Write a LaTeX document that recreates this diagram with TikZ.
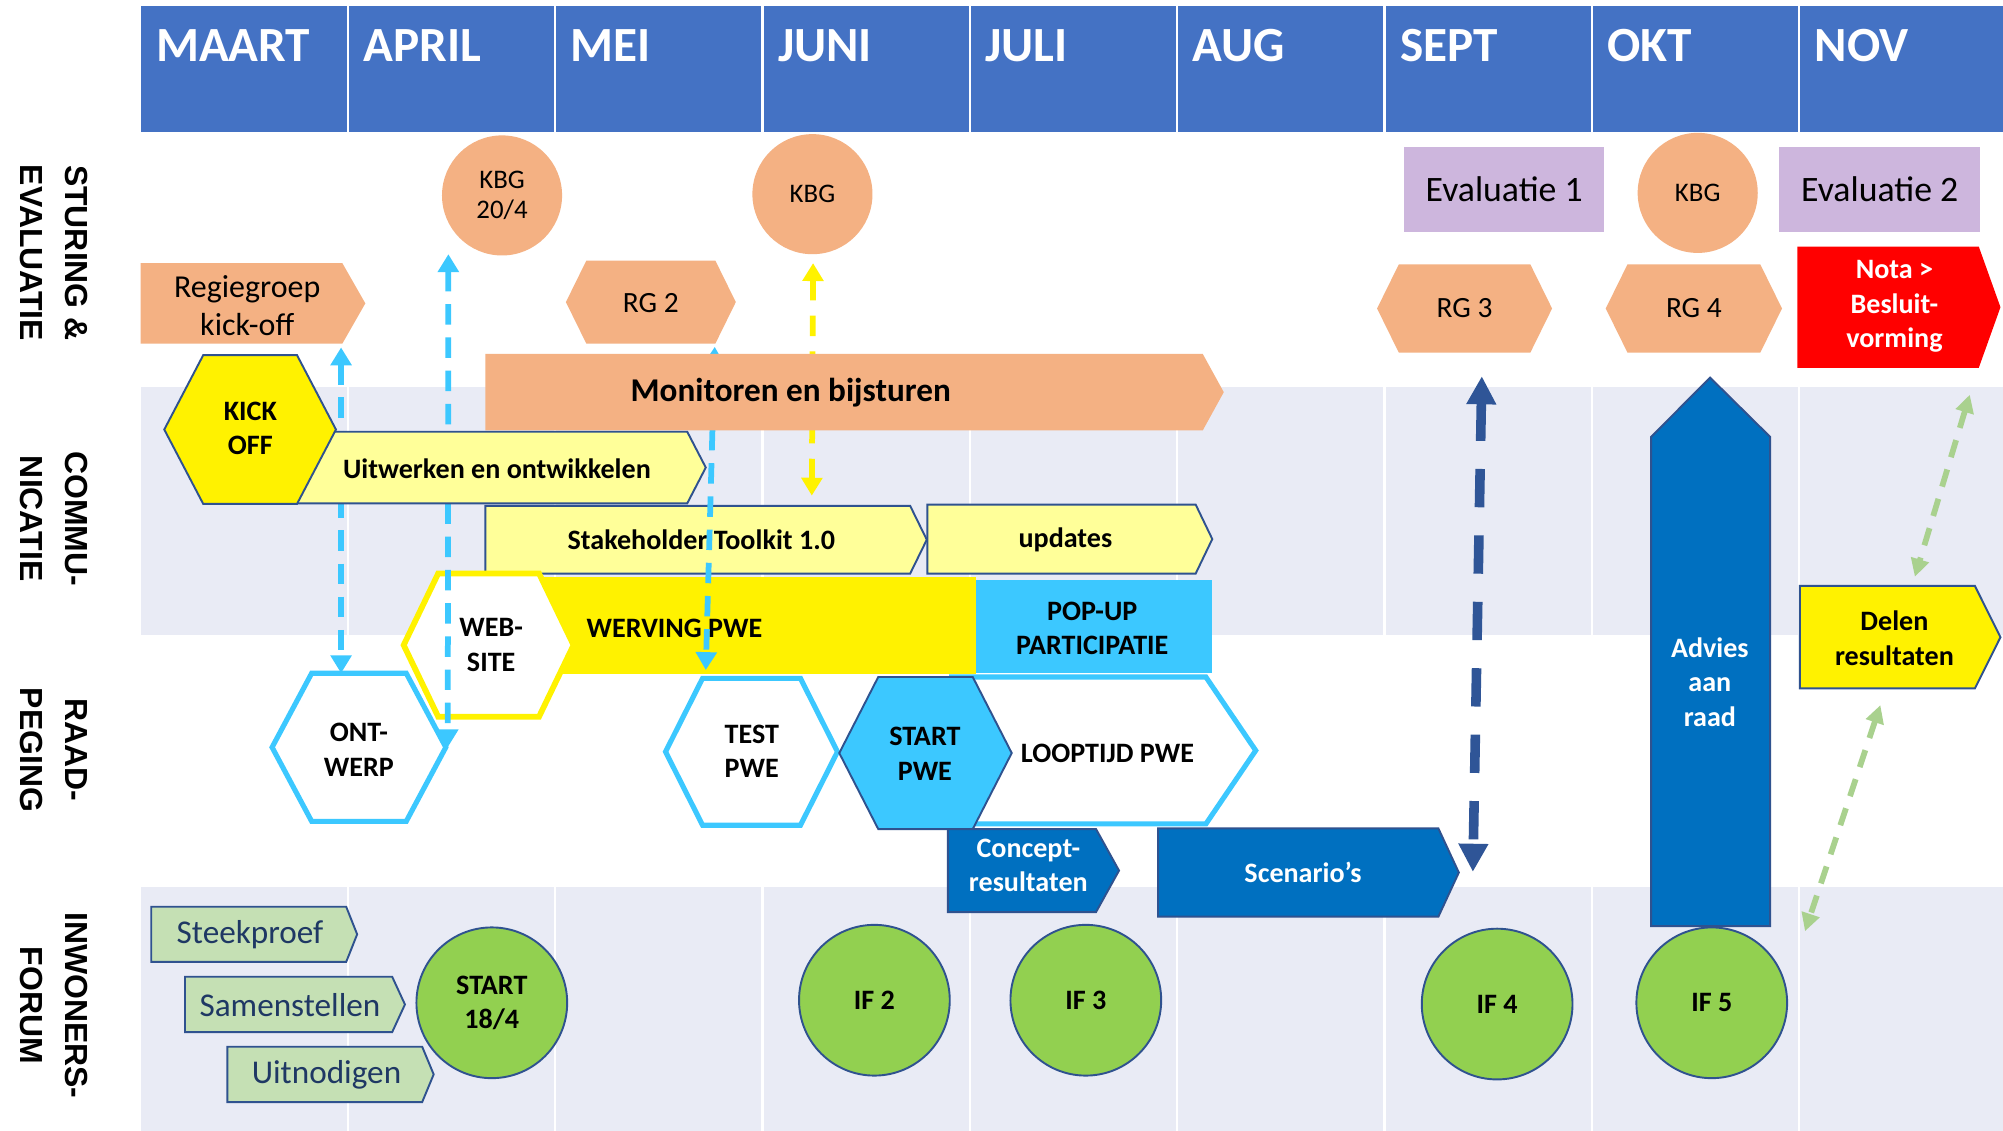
\documentclass[tikz,border=0pt]{standalone}
\usepackage{fontspec}
\setmainfont{Carlito}
\newfontfamily\lanefont{Liberation Sans}
\usetikzlibrary{arrows.meta}
\definecolor{hdr}{HTML}{4472C4}
\definecolor{salmon}{HTML}{F4B183}
\definecolor{lav}{HTML}{CDB6DD}
\definecolor{band}{HTML}{E9EBF5}
\definecolor{lyel}{HTML}{FFFF99}
\definecolor{cyanb}{HTML}{3CC8FF}
\definecolor{blueb}{HTML}{0070C0}
\definecolor{outl}{HTML}{2F528F}
\definecolor{grn}{HTML}{92D050}
\definecolor{lgrn}{HTML}{C5E0B4}
\definecolor{navy}{HTML}{1F3864}
\definecolor{darr}{HTML}{2F5597}
\definecolor{garr}{HTML}{A9D18E}
% #1 style, #2 left, #3 right, #4 top, #5 bottom, #6 inset
\newcommand\HexShape[6]{\path[#1] (#2,{(#4+#5)/2}) -- ({#2+#6},#4) -- ({#3-#6},#4) -- (#3,{(#4+#5)/2}) -- ({#3-#6},#5) -- ({#2+#6},#5) -- cycle;}
% #1 style, #2 left, #3 tip x, #4 top, #5 bottom, #6 tip length
\newcommand\PentShape[6]{\path[#1] (#2,#4) -- ({#3-#6},#4) -- (#3,{(#4+#5)/2}) -- ({#3-#6},#5) -- (#2,#5) -- cycle;}
\begin{document}
\begin{tikzpicture}[x=1pt,y=-1pt,
  lbl/.style={font=\fontsize{22}{27}\selectfont\bfseries, align=center, inner sep=0pt},
  reg/.style={font=\fontsize{25}{30}\selectfont, align=center, inner sep=0pt},
  month/.style={font=\fontsize{38.5}{40}\selectfont\bfseries, text=white, anchor=base west, inner sep=0pt},
  lane/.style={font=\lanefont\bfseries\fontsize{25}{35}\selectfont, align=center, rotate=-90, inner sep=0pt},
  kbg/.style={circle, fill=salmon, minimum size=94pt, inner sep=0pt, font=\fontsize{21}{24}\selectfont, align=center},
  ifc/.style={circle, fill=grn, draw=outl, line width=1.5pt, minimum size=118pt, inner sep=0pt, font=\fontsize{22}{27}\selectfont\bfseries, align=center},
  evalbox/.style={fill=lav, minimum width=157pt, minimum height=67pt, inner sep=0pt, font=\fontsize{28}{30}\selectfont},
  outlined/.style={draw=outl, line width=1.5pt},
  carrow/.style={cyanb, line width=4.5pt, dash pattern=on 16pt off 10pt, {Triangle[length=14pt,width=16pt]}-{Triangle[length=14pt,width=16pt]}},
  yarrow/.style={yellow, line width=4.5pt, dash pattern=on 16pt off 12pt, {Triangle[length=14pt,width=16pt]}-{Triangle[length=14pt,width=16pt]}},
  barrow/.style={darr, line width=7.5pt, dash pattern=on 30pt off 22pt, {Triangle[length=22pt,width=22pt]}-{Triangle[length=22pt,width=22pt]}},
  garrow/.style={garr, line width=4.5pt, dash pattern=on 14pt off 10pt, {Triangle[length=14pt,width=14pt]}-{Triangle[length=14pt,width=14pt]}}
]
\useasboundingbox (0,0) rectangle (1568,885);
\fill[white] (0,0) rectangle (1568,885);
% header and bands
\fill[hdr] (110,5) rectangle (1568,103);
\fill[band] (110,303) rectangle (1568,497);
\fill[band] (110,694) rectangle (1568,885);
\foreach \i in {1,...,8} \draw[white, line width=2pt] ({110+162.3*\i},5) -- ({110+162.3*\i},885);
\foreach \m [count=\i from 0] in {MAART,APRIL,MEI,JUNI,JULI,AUG,SEPT,OKT,NOV}
  \node[month] (m\i) at ({122+162.3*\i},48.3) {\m};
% lane labels
\node[lane] (l1) at (42,198) {STURING \&\\EVALUATIE};
\node[lane] (l2) at (42,406) {COMMU-\\NICATIE};
\node[lane] (l3) at (42,587) {RAAD-\\PEGING};
\node[lane] (l4) at (42,787) {INWONERS-\\FORUM};

% Sturing & evaluatie
\node[kbg] (kbg1) at (393,153) {KBG\\20/4};
\node[kbg] (kbg2) at (636,152) {KBG};
\node[kbg] (kbg3) at (1329,151) {KBG};
\node[evalbox] (ev1) at (1177.5,148.5) {Evaluatie 1};
\node[evalbox] (ev2) at (1471.5,148.5) {Evaluatie 2};
\PentShape{fill=salmon}{110}{286}{206}{269}{18}
\node[reg] (regie) at (193.5,239.5) {Regiegroep\\kick-off};
\HexShape{fill=salmon}{443}{576}{204}{269}{16}
\node[reg, font=\fontsize{23}{27}\selectfont] (rg2) at (509.5,237) {RG 2};
\HexShape{fill=salmon}{1078}{1215}{207}{276}{17}
\node[reg, font=\fontsize{23}{27}\selectfont] (rg3) at (1146.5,241.5) {RG 3};
\HexShape{fill=salmon}{1257}{1395}{207}{276}{17}
\node[reg, font=\fontsize{23}{27}\selectfont] (rg4) at (1326,241.5) {RG 4};
\PentShape{fill=red}{1407}{1566}{193}{288}{17}
\node[lbl, text=white] (nota) at (1483,240) {Nota >\\Besluit-\\vorming};

% Communicatie
\PentShape{fill=lyel, outlined}{380}{725.5}{396}{449}{13}
\node[lbl] (toolkit) at (549,422.7) {Stakeholder Toolkit 1.0};
\PentShape{fill=lyel, outlined}{726}{949}{395}{449}{13}
\node[lbl] (upd) at (834,422.7) {updates};
\fill[yellow] (400,452) rectangle (764,528);
\node[lbl] (werving) at (528,491.6) {WERVING PWE};
\fill[cyanb] (764,454) rectangle (948.5,527);
\node[lbl] (popup) at (855,492) {POP-UP\\PARTICIPATIE};

% Raadpleging
\HexShape{fill=white, draw=cyanb, line width=4pt}{213}{349}{527}{643}{31}
\node[lbl] (ontwerp) at (281,587) {ONT-\\WERP};
\HexShape{fill=white, draw=yellow, line width=4.5pt}{316}{449}{449}{561}{27}
\node[lbl] (web) at (384.5,505) {WEB-\\SITE};
\PentShape{fill=white, draw=cyanb, line width=4pt}{745}{983}{530}{645}{39}
\node[lbl] (loop) at (867,589.5) {LOOPTIJD PWE};
\HexShape{fill=white, draw=cyanb, line width=4pt}{521}{655.6}{531}{646}{29}
\node[lbl] (test) at (588.5,588) {TEST\\PWE};
\HexShape{fill=cyanb, outlined}{657}{792}{530}{649}{30.5}
\node[lbl] (startpwe) at (724,590) {START\\PWE};
\PentShape{fill=blueb, outlined}{742}{876}{649}{714}{18}
\node[lbl, text=white] (concept) at (805,677.5) {Concept-\\resultaten};
\PentShape{fill=blueb, outlined}{906.5}{1142}{648.5}{717.6}{16}
\node[lbl, text=white] (scen) at (1020,683) {Scenario’s};
\path[fill=blueb, outlined] (1292.5,725) -- (1292.5,342) -- (1338.7,295.6) -- (1385.7,342) -- (1385.7,725) -- cycle;
\node[lbl, text=white] (advies) at (1338.5,534) {Advies\\aan\\raad};
\PentShape{fill=yellow, outlined}{1409}{1566}{458.7}{538.9}{20}
\node[lbl] (delen) at (1483,499.5) {Delen\\resultaten};

% Inwonersforum
\PentShape{fill=lgrn, outlined}{118.4}{279.6}{709.8}{753}{8.6}
\node[reg, font=\fontsize{26}{30}\selectfont, text=navy] (steek) at (195.7,732) {Steekproef};
\PentShape{fill=lgrn, outlined}{144.8}{317}{764.6}{808}{10}
\node[reg, font=\fontsize{26}{30}\selectfont, text=navy] (samen) at (227,786.8) {Samenstellen};
\PentShape{fill=lgrn, outlined}{178}{339.5}{819.4}{862.7}{9}
\node[reg, font=\fontsize{26}{30}\selectfont, text=navy] (uitn) at (255.6,841.6) {Uitnodigen};
\node[ifc] (if1) at (385,785) {START\\18/4};
\node[ifc] (if2) at (684.5,783) {IF 2};
\node[ifc] (if3) at (850,783) {IF 3};
\node[ifc] (if4) at (1172,786) {IF 4};
\node[ifc] (if5) at (1340,785) {IF 5};

% dashed connectors below the orange / yellow bars
\coordinate (aTop) at (267,272); \coordinate (aBot) at (267,527);
\coordinate (bTop) at (351,199); \coordinate (bBot) at (350.5,585);
\coordinate (cTop) at (559.5,271.5); \coordinate (cBot) at (552.5,524.5);
\coordinate (dTop) at (636.5,206); \coordinate (dBot) at (635.5,388);
\draw[carrow] (aTop) -- (aBot);
\draw[carrow] (bTop) -- (bBot);
\draw[carrow] (cTop) -- (cBot);
\draw[yarrow] (dTop) -- (dBot);

% bars on top
\PentShape{fill=salmon}{380}{958}{277}{337}{16.5}
\node[lbl, font=\fontsize{26}{30}\selectfont\bfseries] (monitor) at (619,307.5) {Monitoren en bijsturen};
\PentShape{fill=lyel, outlined}{200}{552.5}{338}{394}{14.5}
\node[lbl] (uitw) at (389,367) {Uitwerken en ontwikkelen};
\HexShape{fill=yellow, outlined}{128.6}{263}{278}{394.5}{30.5}
\node[lbl] (kick) at (196,335.5) {KICK\\OFF};

% other dashed connectors
\coordinate (eTop) at (1160,294.5); \coordinate (eBot) at (1153,682.5);
\coordinate (fTop) at (1542,309); \coordinate (fBot) at (1499,451.5);
\coordinate (gTop) at (1472,552); \coordinate (gBot) at (1413,729);
\draw[barrow] (eTop) -- (eBot);
\draw[garrow] (fTop) -- (fBot);
\draw[garrow] (gTop) -- (gBot);
\end{tikzpicture}
\end{document}
